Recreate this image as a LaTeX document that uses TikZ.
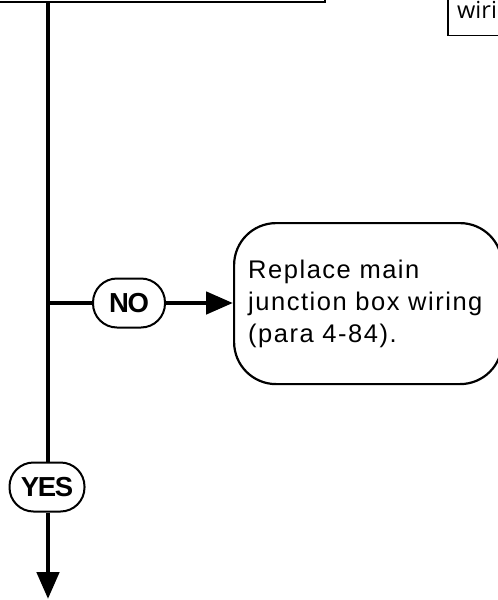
\documentclass[tikz,border=0pt]{standalone}
\usepackage{fontspec}
\setmainfont{Liberation Sans}
\newfontfamily\spacedf{Liberation Sans}[LetterSpace=6]
\newfontfamily\tightf{Liberation Sans}[LetterSpace=-5]
\newfontfamily\wfont{Open Sans}
\usetikzlibrary{arrows.meta}
\tikzset{
  flow/.style={line width=4.8pt},
  flowarrow/.style={line width=4.8pt,-{Triangle[length=27pt,width=22pt]}},
  pill/.style={draw,line width=2pt,rounded corners=24pt,minimum height=49pt,inner sep=0pt,
    fill=white,font=\tightf\bfseries\fontsize{27.5}{27.5}\selectfont},
  actbox/.style={draw,line width=2.2pt,rounded corners=42pt,minimum width=268pt,minimum height=161pt,inner sep=0pt},
}
\begin{document}
\begin{tikzpicture}[x=1pt,y=-1pt]
\useasboundingbox (0,0) rectangle (498,600);
\clip (0,0) rectangle (498,600);
% top boxes (cut off)
\node[draw,line width=2.5pt,minimum width=400pt,minimum height=60pt,anchor=south east,inner sep=0pt] (top) at (326,3) {};
\node[draw,line width=1.5pt,minimum width=90pt,minimum height=70pt,anchor=south west,inner sep=0pt] (wbox) at (447,36) {};
\node[anchor=base west,inner sep=0pt,font=\wfont\fontsize{23.5}{23.5}\selectfont] (wtext) at (457,18) {wiri};
% main vertical flow
\coordinate (vtop) at (48,2);
\coordinate (br) at (48,303);
\coordinate (vend) at (48,599);
\node[pill,minimum width=75pt] (yes) at (47,487) {YES};
\node[pill,minimum width=72pt] (no) at (129,303) {NO};
\node[actbox,anchor=north west] (act) at (233,222) {};
\node[anchor=base west,align=left,inner sep=0pt,font=\spacedf\fontsize{25.5}{32}\selectfont] (acttext) at (248,342) {Replace main\\junction box wiring\\(para 4-84).};
\draw[flow] (vtop) -- (yes.north -| vtop);
\draw[flowarrow] (yes.south -| vend) -- (vend);
\draw[flow] (br) -- (no.west);
\draw[flowarrow] (no.east) -- (no.east -| act.west);
\end{tikzpicture}
\end{document}
